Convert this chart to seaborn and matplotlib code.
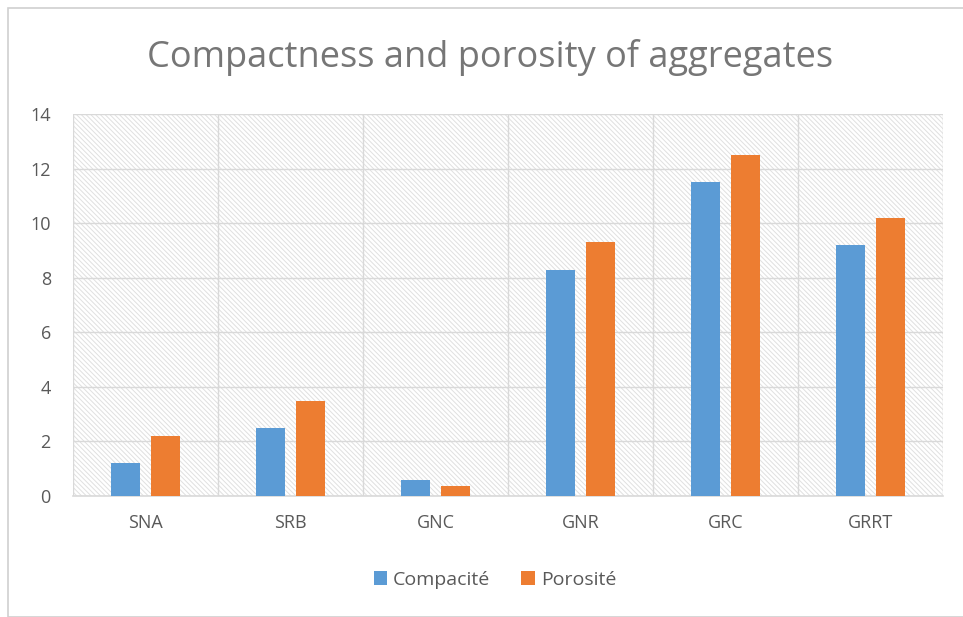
import matplotlib
matplotlib.use("Agg")
import matplotlib.pyplot as plt
import seaborn as sns
import pandas as pd
from matplotlib.patches import Rectangle

categories = ["SNA", "SRB", "GNC", "GNR", "GRC", "GRRT"]
compacite = [1.2, 2.5, 0.6, 8.3, 11.5, 9.2]
porosite = [2.2, 3.5, 0.35, 9.3, 12.5, 10.2]
series_names = ["Compacité", "Porosité"]
y_ticks = [0, 2, 4, 6, 8, 10, 12, 14]
title = "Compactness and porosity of aggregates"

df = pd.DataFrame({
    "cat": categories * 2,
    "val": compacite + porosite,
    "series": [series_names[0]] * len(categories) + [series_names[1]] * len(categories),
})

sns.set_theme(style="white")
plt.rcParams["font.family"] = ["Open Sans", "DejaVu Sans"]
plt.rcParams["hatch.color"] = "#e0e0e0"
plt.rcParams["hatch.linewidth"] = 0.7

fig = plt.figure(figsize=(9.63, 6.17), dpi=100)
fig.patch.set_facecolor("white")
fig.add_artist(Rectangle((8 / 963, 0.0), 1.2, 1 - 8 / 617, transform=fig.transFigure,
                         fill=False, edgecolor="#d0d0d0", linewidth=1.2))

ax = fig.add_axes([73 / 963, 1 - 496 / 617, 870 / 963, (496 - 114) / 617])
ax.set_facecolor("white")
# hatched background
ax.add_patch(Rectangle((0, 0), 1, 1, transform=ax.transAxes, facecolor="white",
                       edgecolor="#e0e0e0", hatch="\\" * 7, linewidth=0, zorder=0))

palette = {series_names[0]: "#5B9BD5", series_names[1]: "#ED7D31"}
sns.barplot(data=df, x="cat", y="val", hue="series", palette=palette, ax=ax,
            width=0.56, gap=0.28, saturation=1, edgecolor="none", zorder=3, legend=True)

ax.set_ylim(0, 14)
ax.set_xlim(-0.5, len(categories) - 0.5)
ax.set_yticks(y_ticks)
ax.set_xticks(range(len(categories)))
ax.set_xticks([i - 0.5 for i in range(len(categories) + 1)], minor=True)
ax.grid(False)
ax.yaxis.grid(True, color="#d9d9d9", linewidth=1.0, zorder=1)
ax.xaxis.grid(True, which="minor", color="#d9d9d9", linewidth=1.0, zorder=1)
ax.set_axisbelow(True)
for s in ["top", "right", "left"]:
    ax.spines[s].set_visible(False)
ax.spines["bottom"].set_color("#d9d9d9")
ax.spines["bottom"].set_linewidth(1.2)
ax.tick_params(axis="both", which="both", length=0, colors="#595959", labelsize=13)
ax.tick_params(axis="y", pad=16)
ax.tick_params(axis="x", pad=13)
ax.set_xlabel("")
ax.set_ylabel("")

fig.text(490 / 963, 1 - 58 / 617, title, ha="center", va="center", fontsize=26, color="#767676")

handles, labels = ax.get_legend_handles_labels()
ax.legend_.remove()
fig.legend(handles, labels, loc="center", bbox_to_anchor=(495 / 963, 1 - 580 / 617), ncol=2,
           frameon=False, fontsize=14, labelcolor="#595959", handlelength=0.7, handleheight=0.7,
           handletextpad=0.3, columnspacing=1.6)

fig.savefig("out.png", dpi=100)
